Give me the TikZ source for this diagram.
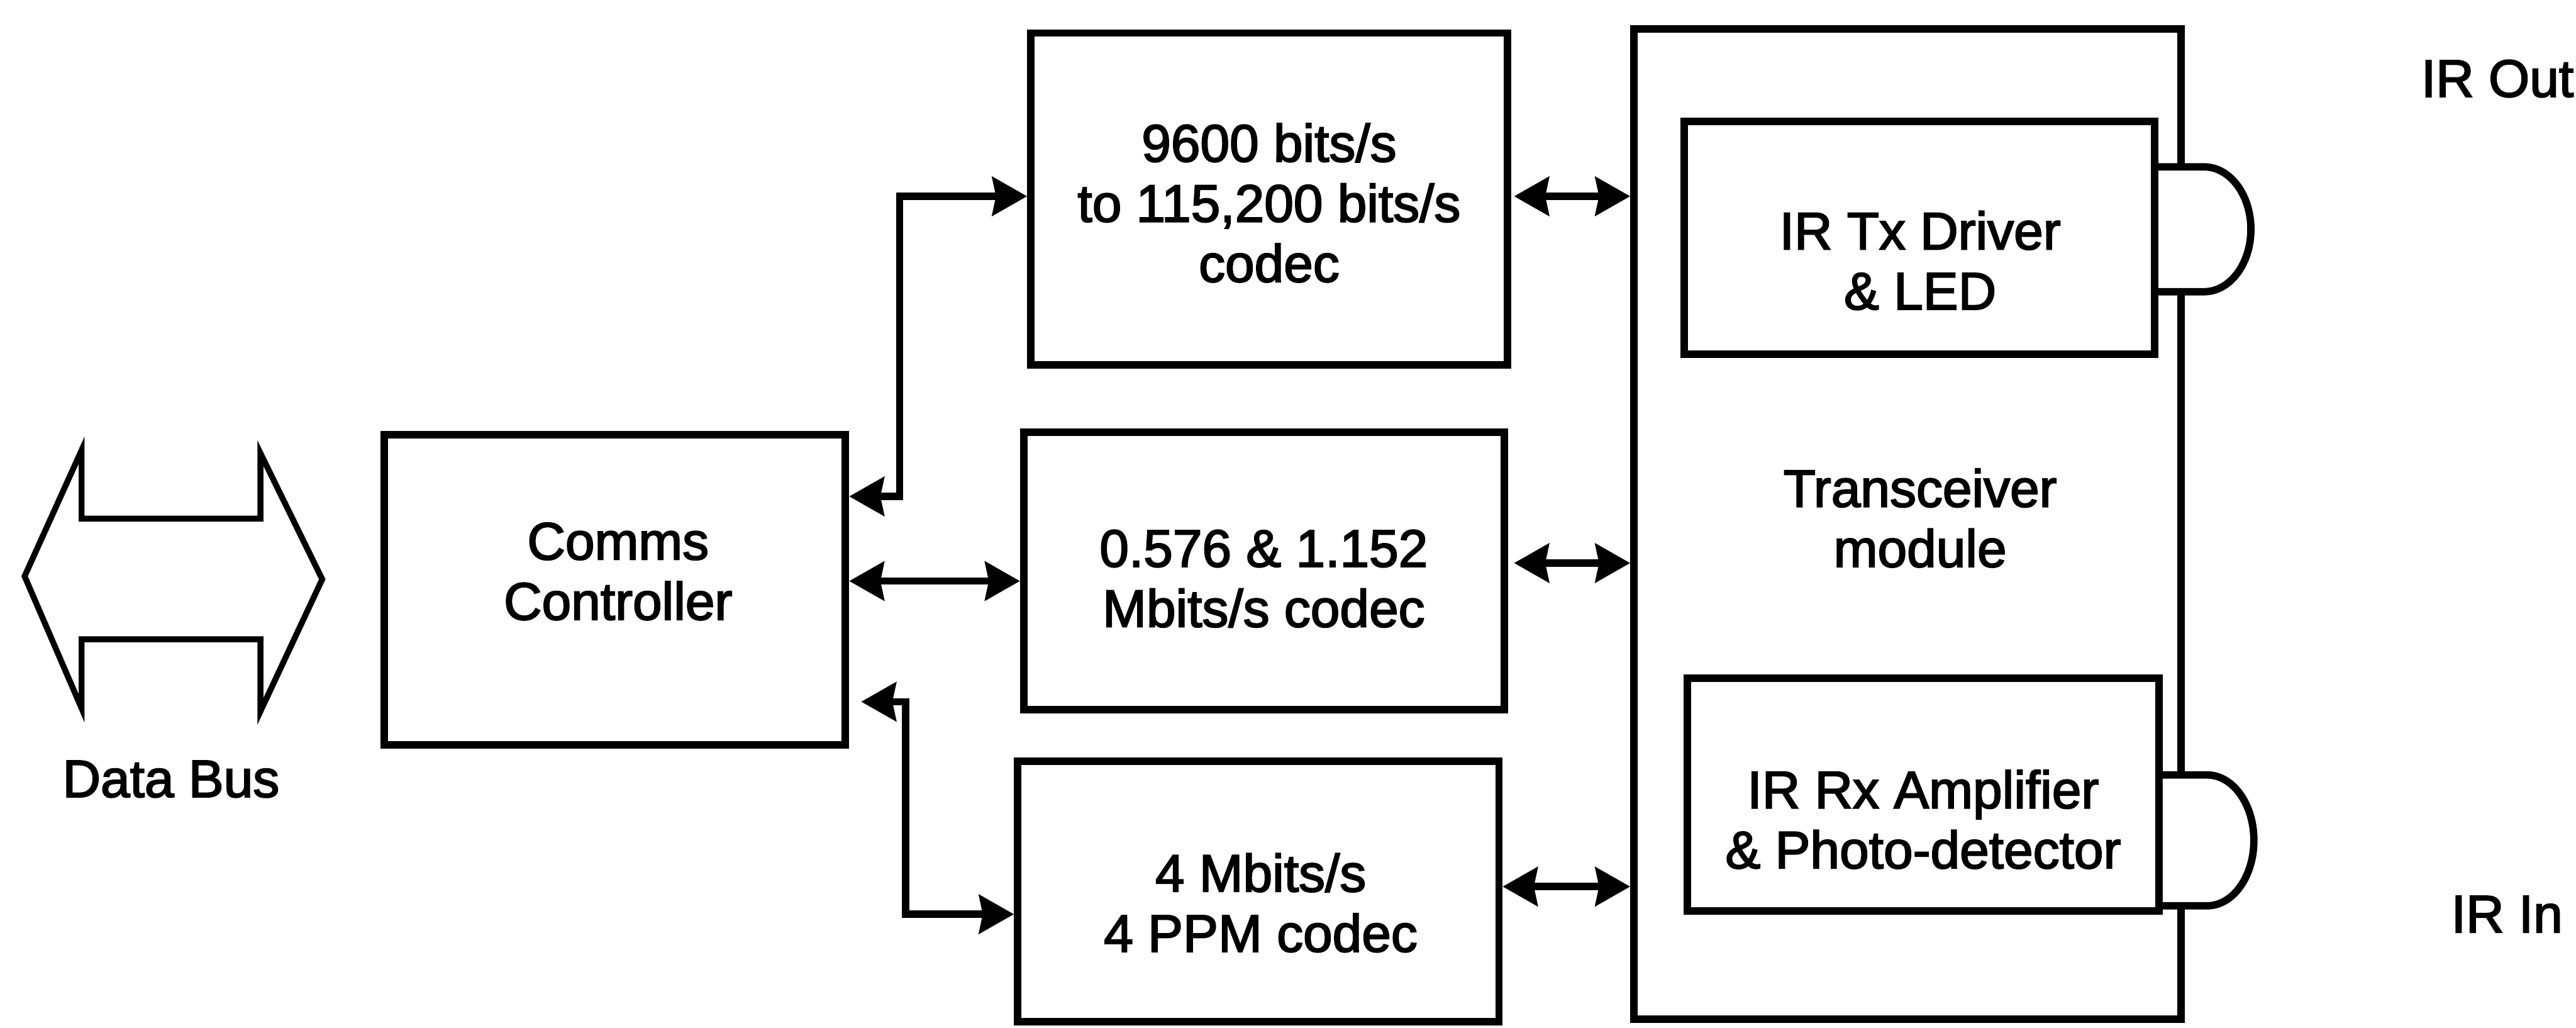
\documentclass[tikz,border=0pt]{standalone}
\usepackage{fontspec}
\setmainfont[FakeBold=2.5]{Liberation Sans}
\usetikzlibrary{arrows.meta,calc}
\begin{document}
\begin{tikzpicture}[
  every node/.style={font=\fontsize{25}{28.5}\selectfont},
  box/.style={draw, line width=3.5pt, rectangle, inner sep=0pt},
  lbl/.style={align=center, inner sep=0pt},
  dbl/.style={line width=3.5pt, arrows={Stealth[length=5.8mm,width=6.4mm,inset=0.6mm]-Stealth[length=5.8mm,width=6.4mm,inset=0.6mm]}},
  bump/.style={draw, line width=3.5pt, fill=white}
]
\useasboundingbox (0,0) rectangle (42.93,-17.12);

% Data bus double arrow
\draw[line width=2.8pt, line join=miter] (0.41,-9.60) -- (1.36,-7.50) -- (1.36,-8.64) -- (4.34,-8.64) -- (4.34,-7.55) -- (5.37,-9.65) -- (4.34,-11.85) -- (4.34,-10.65) -- (1.36,-10.65) -- (1.36,-11.80) -- cycle;
\node[lbl] (databus) at (2.85,-12.98) {Data Bus};

% Boxes
\node[box, minimum width=7.69cm, minimum height=5.17cm] (comms) at (10.245,-9.825) {};
\node[lbl] (commst) at (10.30,-9.52) {Comms\\Controller};

\node[box, minimum width=7.94cm, minimum height=5.53cm] (topc) at (21.15,-3.315) {};
\node[lbl] (topct) at (21.15,-3.38) {9600 bits/s\\to 115,200 bits/s\\codec};

\node[box, minimum width=8.01cm, minimum height=4.62cm] (midc) at (21.065,-9.51) {};
\node[lbl] (midct) at (21.06,-9.64) {0.576 \& 1.152\\Mbits/s codec};

\node[box, minimum width=8.02cm, minimum height=4.34cm] (botc) at (20.97,-14.85) {};
\node[lbl] (botct) at (21.01,-15.04) {4 Mbits/s\\4 PPM codec};

\node[box, minimum width=9.12cm, minimum height=16.5cm] (trx) at (31.79,-8.73) {};
\node[lbl] (trxt) at (32.00,-8.63) {Transceiver\\module};

\node[box, minimum width=7.84cm, minimum height=3.88cm] (tx) at (31.99,-3.96) {};
\node[lbl] (txt) at (32.00,-4.34) {IR Tx Driver\\\& LED};

\node[box, minimum width=7.86cm, minimum height=3.88cm] (rx) at (32.05,-13.24) {};
\node[lbl] (rxt) at (32.05,-13.65) {IR Rx Amplifier\\\& Photo-detector};

% Bumps (LED / photodetector)
\draw[bump] ([yshift=1.18cm]tx.east) -- ++(0.76,0) arc[start angle=90, end angle=-90, x radius=0.78cm, y radius=1.04cm] -- ++(-0.76,0);
\draw[bump] ([yshift=0.33cm]rx.east) -- ++(0.74,0) arc[start angle=90, end angle=-90, x radius=0.78cm, y radius=1.09cm] -- ++(-0.74,0);

\node[lbl] (irout) at (41.62,-1.31) {IR Out};
\node[lbl] (irin) at (41.78,-15.23) {IR In};

% Connectors
\draw[dbl] ([yshift=15.55mm]comms.east) -- ++(0.84,0) |- ([yshift=0.45mm]topc.west);
\draw[dbl] ([yshift=-1.7mm]midc.west -| comms.east) -- ([yshift=-1.7mm]midc.west);
\draw[dbl, shorten <=2mm] ([yshift=-18.65mm]comms.east) -- ++(0.94,0) |- ([yshift=-3.8mm]botc.west);

\draw[dbl, shorten <=0.5mm] ([yshift=0.45mm]topc.east) -- ([yshift=0.45mm]topc.east -| trx.west);
\draw[dbl, shorten <=1mm] ([yshift=1.3mm]midc.east) -- ([yshift=1.3mm]midc.east -| trx.west);
\draw[dbl] ([yshift=0.8mm]botc.east) -- ([yshift=0.8mm]botc.east -| trx.west);
\end{tikzpicture}
\end{document}
